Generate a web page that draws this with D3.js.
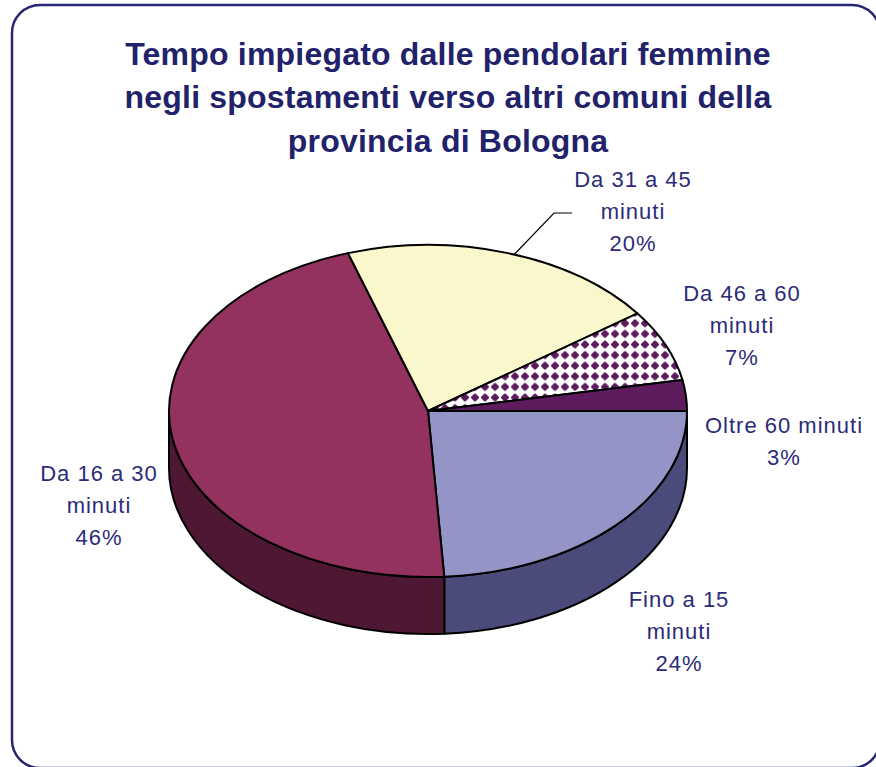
<!DOCTYPE html>
<html>
<head>
<meta charset="utf-8">
<script src="https://cdn.jsdelivr.net/npm/d3@7/dist/d3.min.js"></script>
<style>
  html, body { margin: 0; padding: 0; background: #fff; }
  svg { display: block; }
</style>
</head>
<body>
<svg id="chart" width="876" height="767"></svg>
<script>
// ---- data ----
const titleLines = [
  "Tempo impiegato dalle pendolari femmine",
  "negli spostamenti verso altri comuni della",
  "provincia di Bologna"
];
const categories = [
  ["Fino a 15", "minuti"],
  ["Da 16 a 30", "minuti"],
  ["Da 31 a 45", "minuti"],
  ["Da 46 a 60", "minuti"],
  ["Oltre 60 minuti"]
];
const values = [24, 46, 20, 7, 3];

// ---- styles / layout ----
const topColors  = ["#9494C6", "#93325E", "#FAF7CD", "url(#diam)", "#5E1B5E"];
const sideColors = ["#4A4A7B", "#4E1733", "#B8B58F", "#3E103E", "#3E103E"];
const labelAnchors = [[679, 607], [99, 481], [633, 187], [742, 301], [784, 433]];

const W = 876, H = 767;
const cx = 428, cy = 411, rx = 259, ry = 166, depth = 57;
const textColor = "#2B2B78";
const fontFam = "'Liberation Sans', Arial, Helvetica, sans-serif";

const svg = d3.select("#chart");

// pattern
const defs = svg.append("defs");
const pat = defs.append("pattern")
  .attr("id", "diam")
  .attr("patternUnits", "userSpaceOnUse")
  .attr("width", 10).attr("height", 10.6);
pat.append("rect").attr("width", 10).attr("height", 10.6).attr("fill", "#fff");
pat.append("path")
  .attr("d", "M5,1.2 L6.2,1.9 L9,4.7 L9,5.9 L6.2,8.7 L5,9.4 L3.8,8.7 L1,5.9 L1,4.7 L3.8,1.9 Z")
  .attr("fill", "#5E1B5E");

// border
svg.append("rect")
  .attr("x", 12).attr("y", 5)
  .attr("width", 868).attr("height", 763)
  .attr("rx", 28).attr("ry", 28)
  .attr("fill", "#fff")
  .attr("stroke", "#262673")
  .attr("stroke-width", 2.5);

// title
const title = svg.append("text")
  .attr("text-anchor", "middle")
  .attr("font-family", fontFam)
  .attr("font-weight", "bold")
  .attr("font-size", 32)
  .attr("letter-spacing", 0.2)
  .attr("fill", "#22226B");
const titleY = [65, 108, 152];
titleLines.forEach((t, i) => {
  title.append("tspan").attr("x", 448).attr("y", titleY[i]).text(t);
});

// pie
const pie = d3.pie().sort(null).value(d => d)
  .startAngle(Math.PI / 2).endAngle(Math.PI / 2 + 2 * Math.PI);
const arcs = pie(values);

const px = a => cx + rx * Math.sin(a);
const py = a => cy - ry * Math.cos(a);

function topPath(d) {
  const a0 = d.startAngle, a1 = d.endAngle;
  const large = (a1 - a0) > Math.PI ? 1 : 0;
  return `M${cx},${cy} L${px(a0)},${py(a0)} A${rx},${ry} 0 ${large} 1 ${px(a1)},${py(a1)} Z`;
}
function sidePath(d) {
  const s = Math.max(d.startAngle, Math.PI / 2);
  const e = Math.min(d.endAngle, 3 * Math.PI / 2);
  if (e <= s) return null;
  const large = (e - s) > Math.PI ? 1 : 0;
  return `M${px(s)},${py(s)} A${rx},${ry} 0 ${large} 1 ${px(e)},${py(e)} ` +
         `L${px(e)},${py(e) + depth} A${rx},${ry} 0 ${large} 0 ${px(s)},${py(s) + depth} Z`;
}

const g = svg.append("g");
g.selectAll("path.side")
  .data(arcs.filter(d => sidePath(d)))
  .join("path")
  .attr("class", "side")
  .attr("d", sidePath)
  .attr("fill", d => sideColors[d.index])
  .attr("stroke", "#000")
  .attr("stroke-width", 2)
  .attr("stroke-linejoin", "round");

g.selectAll("path.top")
  .data(arcs)
  .join("path")
  .attr("class", "top")
  .attr("d", topPath)
  .attr("fill", d => topColors[d.index])
  .attr("stroke", "#000")
  .attr("stroke-width", 2)
  .attr("stroke-linejoin", "round");

// leader line for "Da 31 a 45"
const a2 = (arcs[2].startAngle + arcs[2].endAngle) / 2;
const lx0 = px(arcs[2].startAngle + (arcs[2].endAngle - arcs[2].startAngle) * 0.52);
const ly0 = py(arcs[2].startAngle + (arcs[2].endAngle - arcs[2].startAngle) * 0.52);
svg.append("polyline")
  .attr("points", `${lx0},${ly0} ${labelAnchors[2][0] - 79},${labelAnchors[2][1] + 26} ${labelAnchors[2][0] - 61},${labelAnchors[2][1] + 26}`)
  .attr("fill", "none")
  .attr("stroke", "#000")
  .attr("stroke-width", 1.2);

// labels
const lineH = 32;
categories.forEach((cat, i) => {
  const [x, y] = labelAnchors[i];
  const lines = cat.concat([Math.round(values[i]) + "%"]);
  const t = svg.append("text")
    .attr("text-anchor", "middle")
    .attr("font-family", fontFam)
    .attr("font-size", 22)
    .attr("letter-spacing", 1)
    .attr("fill", textColor);
  lines.forEach((l, j) => {
    t.append("tspan").attr("x", x).attr("y", y + j * lineH).text(l);
  });
});
</script>
</body>
</html>
